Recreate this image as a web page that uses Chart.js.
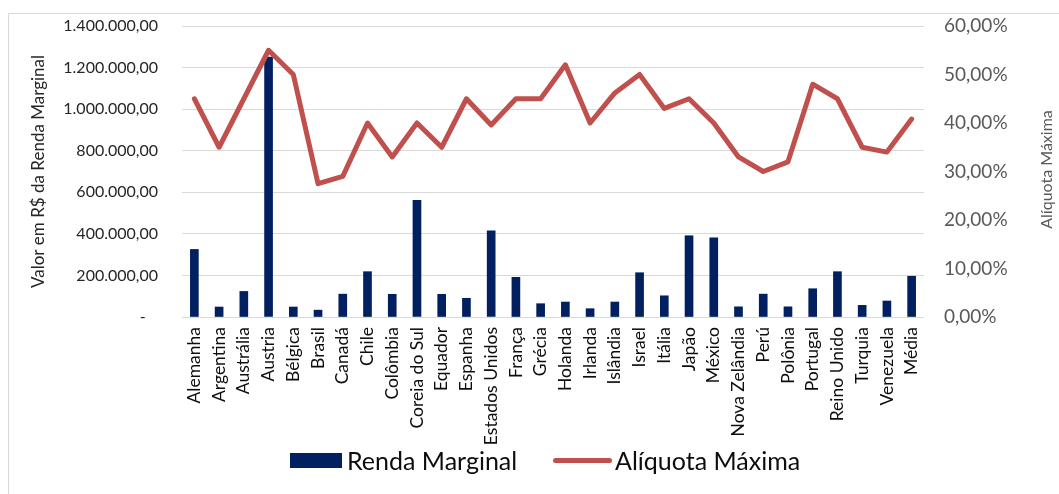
<!DOCTYPE html>
<html><head><meta charset="utf-8">
<script src="https://cdn.jsdelivr.net/npm/chart.js@4"></script>
<style>
html,body{margin:0;padding:0;width:1059px;height:494px;overflow:hidden;background:#fff;font-family:Lato,sans-serif}
#frame{position:absolute;left:8px;top:13px;width:1100px;height:520px;border:1px solid #d9d9d9;box-sizing:border-box}
#wrap{position:absolute;left:0;top:0;width:1059px;height:494px}
.lg{position:absolute;font-family:Lato,sans-serif;font-size:25px;line-height:30px;color:#0d0d0d;white-space:nowrap}
</style></head>
<body>
<div id="frame"></div>
<div id="wrap"><canvas id="c"></canvas></div>
<div style="position:absolute;left:290px;top:453px;width:52px;height:15px;background:#002060"></div>
<div class="lg" style="left:347px;top:445px">Renda Marginal</div>
<div style="position:absolute;left:553px;top:458px;width:59px;height:5px;border-radius:3px;background:#C0504D"></div>
<div class="lg" style="left:615px;top:445px">Alíquota Máxima</div>
<script>
const categories = ["Alemanha","Argentina","Austrália","Austria","Bélgica","Brasil","Canadá","Chile","Colômbia","Coreia do Sul","Equador","Espanha","Estados Unidos","França","Grécia","Holanda","Irlanda","Islândia","Israel","Itália","Japão","México","Nova Zelândia","Perú","Polônia","Portugal","Reino Unido","Turquia","Venezuela","Média"];
const rendaMarginal = [325000,48000,123000,1250000,48000,33000,110000,218000,109000,561000,109000,90000,414000,191000,64000,72000,40000,72000,213000,102000,391000,381000,49000,110000,49000,136000,218000,56000,77000,196000];
const aliquotaMaxima = [45,35,45,55,50,27.5,29,40,33,40,35,45,39.6,45,45,52,40,46.2,50,43,45,40,33,30,32,48,45,35,34,40.8];
const leftTicksMax = 1400000, leftStep = 200000;
const rightTicksMax = 60, rightStep = 10;

const brl = v => v === 0 ? '-   ' : v.toLocaleString('pt-BR',{minimumFractionDigits:2,maximumFractionDigits:2});
const pct = v => v.toFixed(2).replace('.',',') + '%';

const rightTitle = {
  id:'rightTitle',
  afterDraw(chart){
    const ctx = chart.ctx, a = chart.chartArea;
    ctx.save();
    ctx.translate(1047, (a.top + a.bottom)/2 - 2);
    ctx.rotate(-Math.PI/2);
    ctx.font = '16px Lato';
    ctx.fillStyle = '#595959';
    ctx.textAlign = 'center';
    ctx.textBaseline = 'middle';
    ctx.fillText('Alíquota Máxima', 0, 0);
    ctx.restore();
  }
};

new Chart(document.getElementById('c'), {
  data: {
    labels: categories,
    datasets: [
      {type:'line', label:'Alíquota Máxima', data: aliquotaMaxima, yAxisID:'y1', order:0,
       borderColor:'#C0504D', backgroundColor:'#C0504D', borderWidth:5, pointRadius:0,
       tension:0, borderJoinStyle:'round', borderCapStyle:'round'},
      {type:'bar', label:'Renda Marginal', data: rendaMarginal, yAxisID:'y', order:1,
       backgroundColor:'#002060', barThickness:8}
    ]
  },
  options: {
    responsive:true, maintainAspectRatio:false, animation:false,
    layout:{padding:{left:0,right:0,top:26,bottom:0}},
    plugins:{legend:{display:false}, tooltip:{enabled:false}},
    scales:{
      x:{
        grid:{display:false, drawTicks:false}, border:{display:false},
        ticks:{autoSkip:false, minRotation:90, maxRotation:90, padding:10, color:'#0d0d0d', font:{family:'Lato', size:17.5}},
        afterFit(s){ s.height = 177; }
      },
      y:{
        position:'left', min:0, max:leftTicksMax,
        grid:{color:'#d9d9d9', lineWidth:1, drawTicks:false}, border:{display:false},
        ticks:{stepSize:leftStep, padding:24, color:'#262626', font:{family:'Lato', size:16}, callback: brl},
        title:{display:true, text:'Valor em R$ da Renda Marginal', color:'#262626', font:{family:'Lato', size:17}, padding:{top:28,bottom:0}},
        afterFit(s){ s.width = 182; s.paddingTop = 0; s.paddingBottom = 0; }
      },
      y1:{
        position:'right', min:0, max:rightTicksMax,
        grid:{drawOnChartArea:false, drawTicks:false}, border:{display:false},
        ticks:{stepSize:rightStep, padding:20, color:'#595959', font:{family:'Lato', size:19}, callback: pct},
        afterFit(s){ s.width = 135; s.paddingTop = 0; s.paddingBottom = 0; }
      }
    }
  },
  plugins:[rightTitle]
});
</script>
</body></html>
